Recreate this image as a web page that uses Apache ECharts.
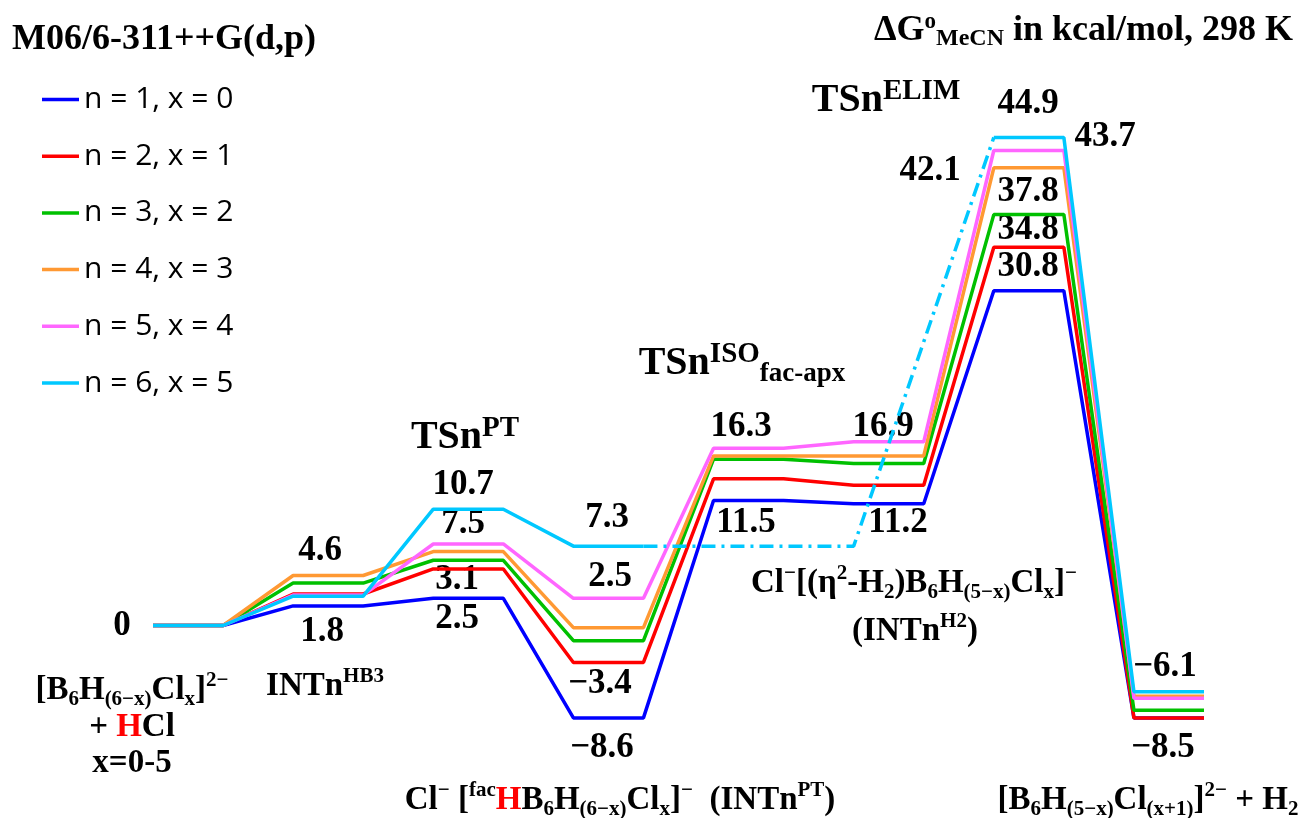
<!DOCTYPE html>
<html><head><meta charset="utf-8">
<script src="https://cdn.jsdelivr.net/npm/echarts@6/dist/echarts.min.js"></script>
<style>html,body{margin:0;padding:0;background:#fff}#c{width:1301px;height:818px}</style>
</head><body><div id="c"></div>
<script>
// Stages of the reaction profile
const stages = ['reactant', 'INTnHB3', 'TSnPT', 'INTnPT', 'TSnISO', 'INTnH2', 'TSnELIM', 'product'];
const seriesNames = ['n = 1, x = 0', 'n = 2, x = 1', 'n = 3, x = 2', 'n = 4, x = 3', 'n = 5, x = 4', 'n = 6, x = 5'];
// ΔG values (kcal/mol) per stage
const n1 = [0, 1.8, 2.5, -8.5, 11.5, 11.2, 30.8, -8.5];
const n2 = [0, 2.9, 5.2, -3.4, 13.5, 12.9, 34.8, -8.5];
const n3 = [0, 3.9, 6.0, -1.4, 15.3, 14.9, 37.8, -7.8];
const n4 = [0, 4.6, 6.8, -0.2, 15.6, 15.6, 42.1, -6.5];
const n5 = [0, 2.8, 7.5, 2.5, 16.3, 16.9, 43.7, -6.7];
const n6 = [0, 2.7, 10.7, 7.3, null, null, 44.9, -6.1];
// n = 6 bypass: INTnPT -> TSnELIM (dash-dot), passing the INTnH2 stage at the INTnPT level
const bypassFrom = 3, bypassVia = 5, bypassTo = 6;

const colors = ['#0000ff', '#ff0000', '#00c000', '#ff9933', '#ff66ff', '#00c8ff'];
const allValues = [n1, n2, n3, n4, n5, n6];

function profile(vals) {
  const pts = [];
  vals.forEach((v, i) => {
    if (v === null) { pts.push([2 * i, null]); return; }
    pts.push([2 * i, v]); pts.push([2 * i + 1, v]);
  });
  return pts;
}

const LW = 3.5;
const series = allValues.map((vals, k) => ({
  name: seriesNames[k], type: 'line', data: profile(vals), symbol: 'none',
  connectNulls: false, clip: false, animation: false,
  lineStyle: { color: colors[k], width: LW }, itemStyle: { color: colors[k] }, z: 2 + k
}));
series.push({
  name: 'bypass', type: 'line', symbol: 'none', clip: false, animation: false, z: 8,
  data: [[2 * bypassFrom + 1, n6[bypassFrom]], [2 * bypassVia, n6[bypassFrom]], [2 * bypassTo, n6[bypassTo]]],
  lineStyle: { color: colors[5], width: LW, type: [14, 6, 3, 6] }
});

const SERIF = 'Liberation Serif';
function tok(size, lh, va, fill) {
  const o = { fontFamily: SERIF, fontWeight: 'bold', fontSize: size, lineHeight: lh, fill: fill || '#000', color: fill || '#000' };
  if (va) o.verticalAlign = va;
  return o;
}
const rich = {
  n: tok(35, 42),
  b: tok(33, 40),
  r: tok(33, 40, null, '#ff0000'),
  sup: tok(21, 20, 'top'),
  sub: tok(21, 16, 'bottom'),
  tsb: tok(40, 48),
  tsup: tok(29, 26, 'top'),
  tsub: tok(27, 32, 'bottom')
};

// annotation texts (x, y = pixel centre)
const notes = [
  [122, 626, '{n|0}'],
  [132, 690, '{b|[B}{sub|6}{b|H}{sub|(6−x)}{b|Cl}{sub|x}{b|]}{sup|2−}'],
  [132, 727, '{b|+ }{r|H}{b|Cl}'],
  [132, 763, '{b|x=0-5}'],
  [325, 686, '{b|INTn}{sup|HB3}'],
  [320, 551, '{n|4.6}'],
  [322, 632, '{n|1.8}'],
  [465, 438, '{tsb|TSn}{tsup|PT}'],
  [463, 485, '{n|10.7}'],
  [463, 524, '{n|7.5}'],
  [457, 580, '{n|3.1}'],
  [457, 619, '{n|2.5}'],
  [607, 518, '{n|7.3}'],
  [610, 577, '{n|2.5}'],
  [600, 684, '{n|−3.4}'],
  [602, 748, '{n|−8.6}'],
  [620, 800, '{b|Cl}{sup|−}{b| [}{sup|fac}{r|H}{b|B}{sub|6}{b|H}{sub|(6−x)}{b|Cl}{sub|x}{b|]}{sup|−}{b|  (INTn}{sup|PT}{b|)}'],
  [742, 364, '{tsb|TSn}{tsup|ISO}{tsub|fac-apx}'],
  [741, 427, '{n|16.3}'],
  [883, 427, '{n|16.9}'],
  [746, 523, '{n|11.5}'],
  [898, 523, '{n|11.2}'],
  [914, 583, '{b|Cl}{sup|−}{b|[(η}{sup|2}{b|-H}{sub|2}{b|)B}{sub|6}{b|H}{sub|(5−x)}{b|Cl}{sub|x}{b|]}{sup|−}'],
  [915, 631, '{b|(INTn}{sup|H2}{b|)}'],
  [886, 101, '{tsb|TSn}{tsup|ELIM}'],
  [1028, 104, '{n|44.9}'],
  [1105, 137, '{n|43.7}'],
  [930, 171, '{n|42.1}'],
  [1028, 192, '{n|37.8}'],
  [1028, 230, '{n|34.8}'],
  [1028, 267, '{n|30.8}'],
  [1165, 667, '{n|−6.1}'],
  [1163, 748, '{n|−8.5}'],
  [1148, 800, '{b|[B}{sub|6}{b|H}{sub|(5−x)}{b|Cl}{sub|(x+1)}{b|]}{sup|2−}{b| + H}{sub|2}']
];

const graphic = notes.map(([x, y, t]) => ({
  type: 'text', x, y, silent: true,
  style: { text: t, rich, align: 'center', verticalAlign: 'middle' }
}));
graphic.push({
  type: 'text', x: 12, y: 40, silent: true,
  style: { text: 'M06/6-311++G(d,p)', fontFamily: SERIF, fontWeight: 'bold', fontSize: 36, fill: '#000', align: 'left', verticalAlign: 'middle' }
});
graphic.push({
  type: 'text', x: 1293, y: 31, silent: true,
  style: {
    text: '{h|ΔG}{hs|o}{hb|MeCN}{h| in kcal/mol, 298 K}', align: 'right', verticalAlign: 'middle',
    rich: {
      h: tok(36, 40),
      hs: tok(23, 20, 'top'),
      hb: tok(24, 16, 'bottom')
    }
  }
});

const chart = echarts.init(document.getElementById('c'), null, { renderer: 'canvas' });
chart.setOption({
  animation: false,
  backgroundColor: '#fff',
  grid: { left: 153, right: 97, top: 82, bottom: 83.8 },
  xAxis: { type: 'value', min: 0, max: 2 * stages.length - 1, show: false },
  yAxis: { type: 'value', min: -10, max: 50, show: false },
  legend: {
    data: seriesNames, orient: 'vertical', left: 42, top: 81.5, padding: 0,
    icon: 'rect', itemWidth: 37, itemHeight: 3.5, itemGap: 20.7,
    textStyle: { fontFamily: 'Open Sans', fontSize: 30, color: '#000', lineHeight: 36 }
  },
  series,
  graphic
});
</script>
</body></html>
